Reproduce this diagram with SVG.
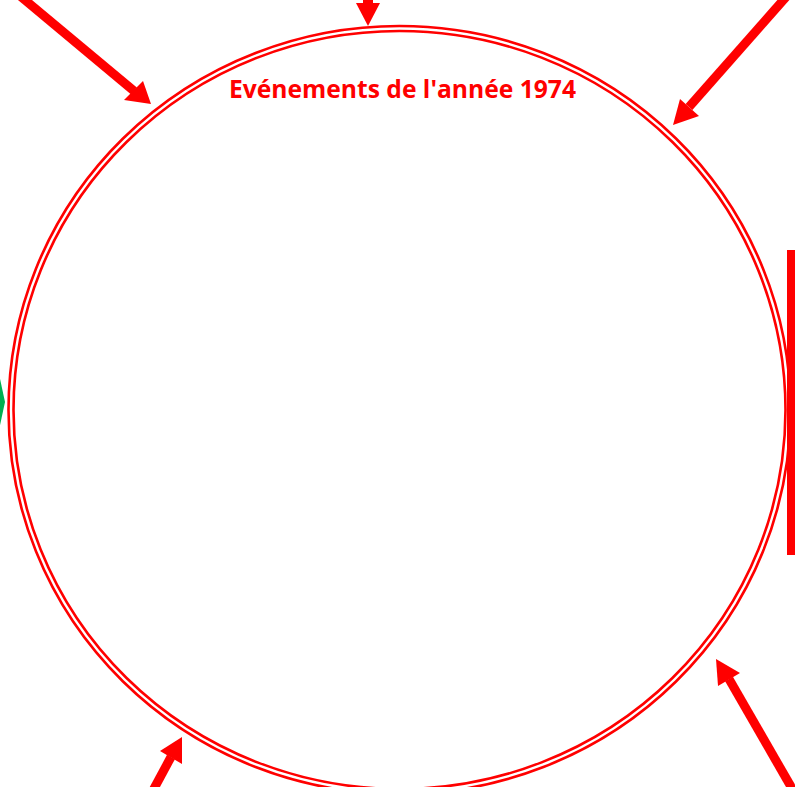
<svg xmlns="http://www.w3.org/2000/svg" width="795" height="787" viewBox="0 0 795 787">
<style>
.ring{fill:none;stroke:#ff0000;stroke-width:2.6}
.shaft{stroke:#ff0000;stroke-width:9;fill:none}
.head{fill:#ff0000;stroke:none}
.title{font-family:"Open Sans","Liberation Sans",sans-serif;font-weight:bold;font-size:25px;fill:#ff0000}
</style>
<rect width="795" height="787" fill="#ffffff"/>
<g id="connectors">
<g id="arrow-left">
<polygon points="-12,323 5,402 -12,481" fill="#00b050"/>
</g>
</g>
<g id="main-node">
<ellipse class="ring" cx="399.5" cy="410" rx="391" ry="384"/>
<ellipse class="ring" cx="399.5" cy="410" rx="386" ry="379"/>
<text class="title" x="402.5" y="98" text-anchor="middle" textLength="347" lengthAdjust="spacingAndGlyphs">Evénements de l'année 1974</text>
</g>
<g id="connectors-2">
<g id="arrow-upper-left">
<line class="shaft" x1="-5" y1="-25" x2="134" y2="91"/>
<polygon class="head" points="151,104 124,100 143,81"/>
</g>
<g id="arrow-top">
<line class="shaft" x1="368" y1="-10" x2="368" y2="5" style="stroke-width:10"/>
<polygon class="head" points="356,3 380,3 368,26"/>
</g>
<g id="arrow-upper-right">
<line class="shaft" x1="801" y1="-20" x2="689" y2="107"/>
<polygon class="head" points="673,125 680,99 699,116"/>
</g>
<g id="bar-right">
<rect x="787" y="250" width="10" height="305" fill="#ff0000"/>
</g>
<g id="arrow-lower-left">
<line class="shaft" x1="171" y1="757" x2="143" y2="809"/>
<polygon class="head" points="182,737 160,751 182,764"/>
</g>
<g id="arrow-lower-right">
<line class="shaft" x1="729" y1="679" x2="805" y2="811"/>
<polygon class="head" points="716,659 718,686 740,673"/>
</g>
</g>
</svg>
